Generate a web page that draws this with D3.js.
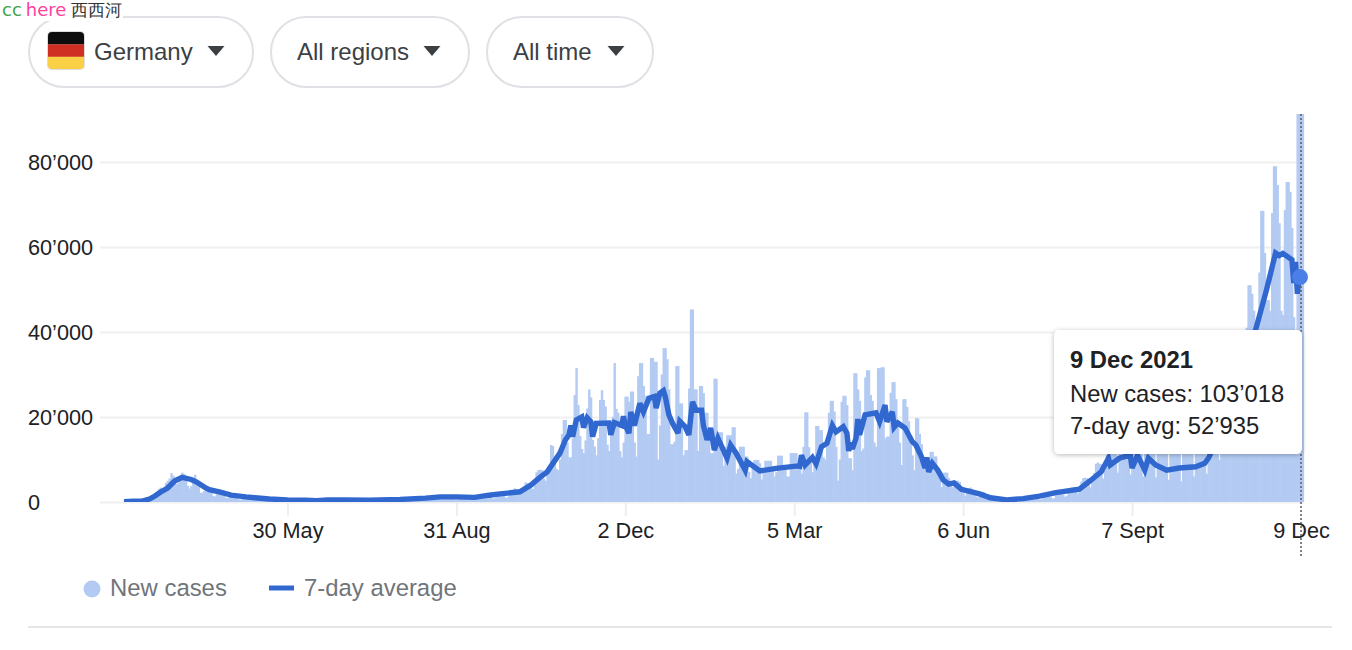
<!DOCTYPE html>
<html><head><meta charset="utf-8">
<script src="https://cdn.jsdelivr.net/npm/d3@7/dist/d3.min.js"></script>
<style>
html,body{margin:0;padding:0;background:#fff;overflow:hidden}
svg{display:block}
text{font-family:"Liberation Sans",Arial,sans-serif}
</style></head><body>
<svg id="c" width="1352" height="650"></svg>
<script>
// Daily new cases in thousands, starting 1 Mar 2020. Rows run Friday..Thursday, last row ends 9 Dec 2021.
const firstWave = [
 .03,.02,.03,.05,.05,
 .1,.1,.1,.2,.2,.3,.4,
 .6,1,.9,1,1.5,2,2.4,
 3,3.4,2.6,3.2,4.5,5,5.5,
 6.8,6.2,5,4.2,4.6,5.8,6.9,
 6.6,6,3.8,3.2,3.8,5.6,6.4,
 4.8,3.8,2.2,2.2,2.6,3,3.4,
 2.6,2.4,1.4,1.3,1.8,2.3,2.5,
 1.6,1.5,1,.9,1.2,1.4,1.6
];
const summer2020 = [
 1.2,1,.6,.5,.9,1,1.2,
 1,.8,.5,.4,.7,.8,.9,
 .8,.6,.4,.3,.5,.6,.7,
 .6,.5,.3,.2,.4,.5,.6,
 .5,.4,.3,.2,.4,.4,.5,
 .5,.4,.2,.2,.3,.4,.5,
 .4,.3,.2,.2,.3,.5,.6,
 .5,.4,.3,.3,.4,.5,.6,
 .6,.5,.3,.3,.4,.5,.6,
 .5,.4,.3,.3,.4,.5,.6,
 .5,.4,.2,.3,.4,.4,.5,
 .5,.4,.2,.2,.4,.5,.6,
 .6,.5,.3,.3,.6,.7,.8,
 .8,.6,.4,.4,.7,.9,1,
 .9,.8,.5,.5,.9,1.1,1.2,
 1.3,1,.6,.6,1.1,1.3,1.5,
 1.4,1.2,.7,.6,1.2,1.5,1.5,
 1.4,1.1,.6,.6,1.2,1.4,1.5,
 1.4,1.2,.6,.6,1.3,1.5,1.6,
 1.5,1.3,.7,.7,1.4,1.7,1.8,
 1.8,1.4,.8,.9,1.5,2,2.1,
 2,1.6,1,1.1,2,2.6,2.8
];
const winterWave = [
 3.2,3,2.4,1.8,3,3.6,4.6,
 4.4,3.6,3.4,3,5.2,7,7.5,
 7.6,7.5,5.5,5,7.5,8.2,13.4,
 13.2,9,7.8,7.5,10,16,19.3,
 19.3,14,10.5,10.5,15,25.2,31.5,
 22.8,15.5,12.5,11.5,14.5,22,26.5,
 24.6,14.6,13,11,15,24,26.3,
 24,22.5,13.5,12,17,20,32.7,
 21.9,21,12,10.5,14,24.8,24.8,
 23.6,26,26,14,10.7,29.6,32.7,
 32.7,27.3,25,16,16,33.9,33.9,
 33,33,10,18,30,36.2,36.2,
 33.6,26.5,13.6,13.6,14.2,32,32,
 23.2,23.2,11,12.2,12.2,26.7,45.3,
 45.3,26.5,26.5,12,27.3,27.3,25.6,
 21,21,17,11.5,11.5,29,29,
 16.4,16.4,16.4,8.5,13,15.7,15.7,
 15.7,17.6,17.6,6.7,7.8,13,13,
 13,10.7,10.7,7.1,5.6,8,9.9,
 9.9,9.9,9.1,5.3,7.5,9.7,9.7,
 9.7,9.7,8,6,7,10.9,10.9,
 10.9,8.5,8.5,6,6,11.5,11.5
];
const springWave = [
 11.5,11.5,8.5,8.5,6.7,13,21.1,
 21.1,12.9,10,7,9,17.9,17.9,
 16.9,16.9,10.5,10,14,21,23.8,
 23.8,21.3,13,5,10,23.6,25,
 25,22.8,10.3,10.3,7.5,30.3,30.3,
 26.5,23.8,12,12.6,29.3,31,31,
 25.2,23.8,14,13,31.5,31.5,31.7,
 31.7,15,15.4,15.4,25.7,28.2,28.2,
 24.2,18,14,8.7,24.2,24.2,22.4,
 19,15,11,7.5,19.7,19.7,16,
 13.6,10,9.5,8,8,11.8,11.8,
 10.7,10.7,7,7,3.5,6.9,6.9,
 6.9,5.6,4.2,3.5,4.2,5,5
];
const summer2021 = [
 4.7,3.6,2.2,1.5,2.5,3.3,3.4,
 3,2.4,1.3,1.1,1.7,2.3,2.4,
 1.9,1.6,.9,.7,1.1,1.3,1.4,
 1.1,1,.6,.5,.7,.9,1,
 .9,.7,.5,.4,.7,.9,1,
 1,.8,.6,.5,.9,1.1,1.2,
 1.2,1,.6,.6,1.2,1.4,1.6,
 1.6,1.2,.8,.9,1.6,1.9,2,
 2.1,1.7,1.2,1.5,2.7,3.3,3.4,
 3.5,3,2,3.3,4.8,5.6,5.7,
 5.6,5.5,3.5,5.5,6.8,9,9.3,
 9,8.9,5.5,7.5,11,14,15.6
];
const autumnWave = [
 14,14,11.5,6.9,12,15.5,15.5,
 15,14,11.5,6.5,12,15,15,
 14,13.5,11.5,6,12,14,14,
 13,12.5,11.3,5.8,11.5,13.5,13.5,
 13,12.5,11.3,5.2,11.5,13.5,13,
 13,12.5,11.3,4.9,11.5,13.5,14,
 14,13,11.5,6,12,15,16,
 14,13,11.5,6.7,12,18,19,
 17,16,12,9.9,15,23,28,
 25,23,18,14,24,33,38,
 33,28,24,20,41,51,51,
 49,45,33,28,54,68.5,68.5,
 58.6,47.5,47.5,45,68,79,79,
 74.6,65.6,45,44,68.7,75.3,75.3,
 73,64.5,43.5,30,97,101,103.018
];
const newCases = [].concat(firstWave, summer2020, winterWave, springWave, summer2021, autumnWave);

// 7-day average (thousands), read at the days where the line bends; days counted from 1 Mar 2020.
const avgDay = [0,5,10,14,17,20,24,28,31,32,37,40,45,47,53,59,67,72,80,90,100,106,112,122,135,152,166,174,183,193,201,207,218,224,229,233,240,243,245,246,247,249,252,253,255,257,258,260,267,268,270,274,275,276,278,279,281,284,286,289,292,293,295,297,298,300,302,305,306,309,311,312,313,315,318,319,321,323,325,327,332,334,337,342,343,350,359,371,372,373,375,379,381,384,387,390,392,396,398,399,400,401,403,404,405,408,414,416,419,420,423,424,426,430,434,436,439,441,442,443,445,448,451,454,457,461,471,477,486,495,504,513,526,532,538,542,543,548,554,555,558,562,564,568,574,581,590,595,597,600,605,610,617,623,629,634,636,638,643,644,645,646,647,648];
const avgValue = [.1,.2,.2,.7,1.4,2.3,3.3,5,5.6,5.8,5.3,4.7,3.3,2.9,2.3,1.6,1.2,1,.7,.5,.4,.3,.5,.5,.4,.6,.9,1.2,1.2,1.1,1.6,1.9,2.4,4,5.8,7.1,11.5,14.6,15.8,18,15.4,19.3,20,17.5,19.8,18.9,15.4,18.5,18.6,15.8,18.7,18,20.2,18,16.2,21.2,18,23.2,21.2,24.4,24.8,22.1,25.6,26.2,24.8,20.5,18.5,16.2,19,17.7,15.8,19.8,23.6,21.6,21.6,18,14.6,17.4,12.2,15,10.3,13.4,11.5,7.5,9.5,7.3,7.9,8.5,8.4,11,8.7,10.5,9,13,13.8,18,16.5,17.7,16.2,12,14,12.5,15,19.5,15.8,20.5,21,18.9,22.8,18.9,21.2,17.6,18.6,17.4,14.2,13.4,10.7,8,10.5,7.1,9.1,7.5,5.2,4.2,4.5,3,1.9,1,.5,.8,1.4,2.2,3,5,7.1,10.3,8.7,10.3,11,8,11,7.5,10.3,8.7,7.5,8,8.3,9.1,10.3,13,20,28,35,40.5,49.9,58.6,58,58.5,57,51.5,56.5,49,53,52.935];

const yTicks = [0,20,40,60,80];
const xTickDates = [[2020,4,30],[2020,7,31],[2020,11,2],[2021,2,5],[2021,5,6],[2021,8,7],[2021,11,9]];
const xTickLabels = ["30 May","31 Aug","2 Dec","5 Mar","6 Jun","7 Sept","9 Dec"];
const filters = ["Germany","All regions","All time"];
const legendLabels = ["New cases","7-day average"];
const tipLines = ["9 Dec 2021","New cases: 103’018","7-day avg: 52’935"];

const barColor="#b3cbf3", lineColor="#3168d0", dotColor="#4a7fe8";
const svg=d3.select("#c");
const start=new Date(Date.UTC(2020,2,1)), end=new Date(Date.UTC(2021,11,9));
const dayOf=i=>d3.utcDay.offset(start,i);
const x=d3.scaleUtc().domain([start,end]).range([124,1301]);
const y=d3.scaleLinear().domain([0,91.3]).range([502,114]);
const barW=x(dayOf(1))-x(dayOf(0));
const fmt=d3.formatLocale({decimal:".",thousands:"’",grouping:[3],currency:["",""]}).format(",");

svg.append("defs").append("clipPath").attr("id","plot").append("rect").attr("x",100).attr("y",114).attr("width",1210).attr("height",388);
const shadow=svg.select("defs").append("filter").attr("id","sh").attr("x","-10%").attr("y","-10%").attr("width","120%").attr("height","125%");
shadow.append("feDropShadow").attr("dx",0).attr("dy",1).attr("stdDeviation",2.5).attr("flood-color","#000").attr("flood-opacity",.28);

// y axis
const yAxis=svg.append("g").attr("transform","translate(100,0)")
 .call(d3.axisLeft(y).tickValues(yTicks).tickSize(-1204).tickPadding(0).tickFormat(v=>fmt(v*1000)));
yAxis.select(".domain").remove();
yAxis.selectAll("line").attr("stroke","#f0f0f0").attr("stroke-width",2);
yAxis.selectAll("text").attr("x",-72).attr("text-anchor","start").attr("font-size",21.7).attr("fill","#202124").attr("dy","0.36em").attr("font-family",'"Liberation Sans",Arial,sans-serif');

// x axis
const tickDates=xTickDates.map(d=>new Date(Date.UTC(d[0],d[1],d[2])));
const xAxis=svg.append("g").attr("transform","translate(0,502)")
 .call(d3.axisBottom(x).tickValues(tickDates).tickSize(14).tickPadding(7).tickFormat((d,i)=>xTickLabels[i]));
xAxis.select(".domain").remove();
xAxis.selectAll("line").attr("stroke","#eeeeee").attr("stroke-width",2);
xAxis.selectAll(".tick").filter((d,i)=>i===6).select("line").remove();
xAxis.selectAll("text").attr("font-size",21.7).attr("fill","#202124").attr("font-family",'"Liberation Sans",Arial,sans-serif');

// bars (slight overlap so neighbours merge into a solid area)
const plot=svg.append("g").attr("clip-path","url(#plot)");
plot.append("g").attr("shape-rendering","auto").selectAll("rect").data(newCases).join("rect")
 .attr("x",(d,i)=>x(dayOf(i))-barW/2 - (i===newCases.length-1?1:0))
 .attr("width",(d,i)=>i===newCases.length-1?barW+3.2:barW+0.6)
 .attr("y",d=>y(d)).attr("height",d=>y(0)-y(d)).attr("fill",barColor);

// 7-day line
const line=d3.line().x(d=>x(dayOf(d.day))).y(d=>y(d.v));
plot.append("path").datum(avgDay.map((d,i)=>({day:d,v:avgValue[i]})))
 .attr("d",line).attr("fill","none").attr("stroke",lineColor).attr("stroke-width",5.4).attr("stroke-linejoin","miter").attr("stroke-miterlimit",3);

// hover guide and dot
svg.append("line").attr("x1",x(end)).attr("x2",x(end)).attr("y1",114).attr("y2",556)
 .attr("stroke","#5f6368").attr("stroke-width",1.6).attr("stroke-dasharray","2 2");
svg.append("circle").attr("cx",x(end)-1).attr("cy",y(avgValue[avgValue.length-1])).attr("r",8).attr("fill",dotColor);

// tooltip
svg.append("rect").attr("x",1054).attr("y",330).attr("width",248).attr("height",124).attr("rx",5)
 .attr("fill","#fff").attr("filter","url(#sh)");
svg.append("g").selectAll("text").data(tipLines).join("text")
 .attr("x",1070).attr("y",(d,i)=>[368,402,434][i]).attr("font-size",23.8).attr("fill","#202124")
 .attr("font-weight",(d,i)=>i?400:700).text(d=>d);

// legend
svg.append("circle").attr("cx",92).attr("cy",589).attr("r",8.5).attr("fill",barColor);
svg.append("line").attr("x1",269).attr("x2",294).attr("y1",588).attr("y2",588).attr("stroke",lineColor).attr("stroke-width",5);
svg.append("g").selectAll("text").data(legendLabels).join("text")
 .attr("x",(d,i)=>[110,304][i]).attr("y",596).attr("font-size",23.9).attr("fill","#70757a").text(d=>d);
svg.append("line").attr("x1",28).attr("x2",1332).attr("y1",627).attr("y2",627).attr("stroke","#e6e6e6").attr("stroke-width",2);

// filter pills
const pillX=[29,271,487], pillW=[224,198,166], labelX=[94,297,513], caretX=[216,432,616];
const pills=svg.append("g").selectAll("g").data(filters).join("g");
pills.append("rect").attr("x",(d,i)=>pillX[i]).attr("y",17).attr("width",(d,i)=>pillW[i]).attr("height",70).attr("rx",35)
 .attr("fill","#fff").attr("stroke","#dfe1e5").attr("stroke-width",2);
pills.append("text").attr("x",(d,i)=>labelX[i]).attr("y",60).attr("font-size",24).attr("fill","#3c4043").text(d=>d);
pills.append("path").attr("d",(d,i)=>d3.line()([[caretX[i]-8.5,46],[caretX[i]+8.5,46],[caretX[i],56]])+"Z").attr("fill","#3c4043");

// flag
const flag=svg.append("g");
flag.append("rect").attr("x",47).attr("y",31).attr("width",38).attr("height",39).attr("rx",5).attr("fill","#dcdcdc");
const flagClip=svg.select("defs").append("clipPath").attr("id","fl");
flagClip.append("rect").attr("x",48).attr("y",32).attr("width",36).attr("height",37).attr("rx",4);
const flagBands=["#0d0d0d","#cf2f22","#fbd046"];
flag.append("g").attr("clip-path","url(#fl)").selectAll("rect").data(flagBands).join("rect")
 .attr("x",48).attr("width",36).attr("y",(d,i)=>32+i*12.4).attr("height",12.5).attr("fill",d=>d);

// top-left tag
svg.append("rect").attr("x",0).attr("y",0).attr("width",123).attr("height",21).attr("fill","#fff");
const tag=svg.append("text").attr("x",2).attr("y",16).attr("font-size",18);
tag.append("tspan").attr("fill","#3fa447").attr("font-family","DejaVu Sans").text("cc");
tag.append("tspan").attr("dx",4).attr("fill","#ff3fa0").attr("font-family","DejaVu Sans").text("here");
svg.append("text").attr("x",71).attr("y",16).attr("font-size",16.5).attr("fill","#333").attr("font-family",'"Noto Sans CJK SC"').text("西西河");
</script>
</body></html>
